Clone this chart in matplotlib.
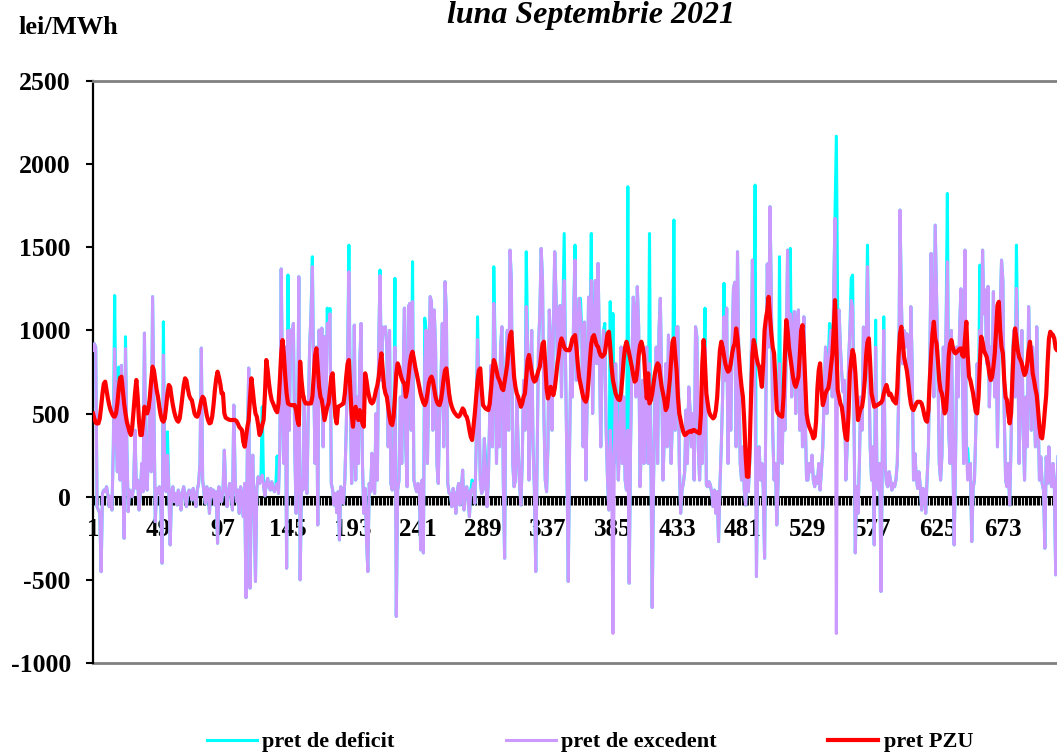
import numpy as np
import matplotlib
matplotlib.use('Agg')
import matplotlib.pyplot as plt
from matplotlib.ticker import MultipleLocator, FixedLocator
from matplotlib.lines import Line2D

# hourly values, September 2021 (30 days x 24 h), one line per day
pret_pzu = [
    501,470,445,440,441,470,540,620,680,692,640,590,550,520,500,485,481,500,560,650,715,722,640,560,
    500,450,420,390,371,420,520,620,702,600,450,371,371,450,541,520,501,530,600,700,782,760,700,641,
    600,540,490,460,451,470,540,620,672,660,600,550,510,480,460,451,470,530,600,670,712,700,650,610,
    590,581,540,500,485,481,500,540,580,601,590,540,490,460,441,445,480,550,640,710,752,720,680,621,
    621,501,475,470,465,462,461,461,462,461,455,440,420,410,401,330,301,360,420,461,600,712,640,560,
    500,481,430,371,390,430,461,620,822,760,680,620,580,561,540,520,508,560,700,860,942,850,720,620,
    561,555,552,550,551,551,520,460,431,812,700,620,580,561,561,560,561,561,600,720,850,892,780,660,
    600,581,520,461,500,540,561,640,720,742,600,480,441,541,545,550,555,561,620,720,800,822,650,500,
    421,520,541,480,461,521,480,440,421,742,700,640,600,570,561,570,600,640,670,720,800,862,760,660,
    620,601,540,480,440,431,480,600,740,802,780,740,710,690,681,601,640,720,800,850,872,830,780,742,
    700,661,620,590,565,551,570,620,680,710,722,700,650,600,570,555,551,580,640,710,760,772,700,620,
    570,541,520,505,495,485,481,490,510,531,520,490,481,450,400,360,341,420,501,600,700,760,772,650,
    551,540,530,525,521,560,650,750,822,800,760,720,702,680,650,641,690,742,800,900,970,992,850,720,
    660,620,601,570,541,560,600,621,720,820,852,800,750,710,692,700,730,760,782,850,920,932,800,650,
    591,620,661,640,611,650,720,800,852,920,952,930,900,885,882,880,882,910,950,962,972,900,800,720,
    680,640,600,580,571,600,700,820,920,960,972,940,910,902,870,850,842,850,862,920,980,992,900,780,
    700,661,620,600,585,581,620,720,830,900,932,900,860,820,780,730,692,700,760,850,910,932,900,842,
    700,591,742,561,580,620,680,740,780,802,790,720,660,621,580,521,540,621,700,820,930,952,850,762,
    600,500,461,420,390,371,375,385,391,395,390,400,401,395,390,385,381,500,800,942,800,621,560,510,
    490,480,471,480,520,600,750,880,932,900,850,800,770,752,760,800,860,900,922,1012,950,850,740,661,
    600,450,250,120,120,300,600,850,942,900,840,800,782,720,661,800,1000,1072,1120,1202,1082,980,900,862,
    700,521,500,490,485,481,600,850,1062,1000,900,842,780,720,680,661,690,722,850,1000,1032,900,700,501,
    450,420,400,380,351,361,450,650,760,802,650,551,580,620,641,650,700,782,850,1000,1182,900,641,600,
    560,541,480,400,350,341,500,742,820,882,850,750,600,461,500,530,541,600,700,850,930,952,800,621,
    580,541,545,550,555,561,565,580,620,650,672,640,611,620,600,580,570,561,650,850,980,1022,930,842,
    800,762,700,620,560,530,521,540,560,571,571,570,560,530,490,460,451,520,702,850,980,1052,950,922,
    820,700,640,621,560,501,520,650,850,920,942,900,870,862,870,880,890,892,850,842,950,1052,850,722,
    700,660,621,560,510,501,600,800,962,930,880,860,842,800,740,702,720,780,862,1000,1150,1172,1000,900,
    862,700,600,581,500,441,500,700,900,1012,950,880,840,822,800,760,732,750,800,880,932,850,742,700,
    650,611,520,420,360,351,420,520,611,800,950,992,980,972,950,892,880,900,920,900,880,900,860,800,
]

pret_excedent = [
    880,920,900,-60,-80,-100,-451,20,40,30,60,10,-60,0,-80,300,890,400,150,700,100,790,200,-250,
    890,300,-90,40,20,0,60,400,50,100,-80,20,200,30,984,100,40,300,600,150,1203,500,-150,50,
    20,60,0,-400,852,100,30,250,50,-290,30,60,-30,20,-50,40,0,-80,30,60,0,-60,20,40,
    30,-20,50,0,-60,40,80,200,894,100,20,-40,60,30,-100,50,0,40,-50,30,-280,60,10,-30,
    40,280,50,-60,20,80,20,-80,551,100,-30,40,-100,60,0,-120,80,-607,300,774,-550,60,250,-80,
    -510,50,120,80,100,130,60,5,80,110,60,40,90,50,30,60,80,20,300,1370,600,200,900,-430,
    1000,400,1002,960,1042,300,-100,200,1323,-500,100,40,600,80,20,500,900,1100,1383,700,200,900,-170,1002,
    600,1014,300,962,500,1042,1000,1100,80,40,-50,20,-96,30,-260,60,20,-40,100,400,800,1353,600,80,
    300,1032,100,600,200,800,1042,200,-100,50,-260,-450,80,30,261,60,20,500,100,900,1330,700,1020,980,
    1022,900,300,1000,80,40,200,900,-720,40,100,600,200,700,1134,300,60,1143,1163,400,1174,100,60,30,
    80,40,-320,100,-338,800,1002,200,700,1203,1173,400,1123,900,200,80,500,700,1042,300,1293,1100,80,20,
    20,-60,50,0,-100,30,80,-50,40,160,-80,20,60,0,-120,40,30,80,-40,300,945,600,100,20,
    40,350,150,-60,100,500,790,300,1163,900,200,700,300,900,1022,100,-370,800,1000,400,1483,1300,200,60,
    100,600,300,80,-50,200,700,400,1143,900,100,600,1000,300,40,-450,200,900,1100,1493,1300,500,100,30,
    300,1123,900,400,1000,1473,1200,800,1100,1150,600,1100,1300,800,200,-510,300,900,600,1100,1423,700,900,1193,
    1100,1000,300,1050,100,600,1200,900,1300,500,1000,1300,800,1403,900,300,800,1000,900,400,100,-80,400,200,
    -822,200,800,400,100,300,900,200,600,100,40,400,-520,300,800,1200,1100,600,1263,1020,60,300,700,200,
    500,900,200,800,300,-666,100,600,900,200,1000,1193,700,100,400,800,300,972,600,200,500,900,400,1020,
    1022,200,-100,40,80,150,521,200,660,520,300,500,100,1022,960,300,100,400,200,600,900,70,60,90,
    70,20,-60,40,-100,30,-270,60,300,600,1082,700,1134,200,800,400,900,1253,1290,300,1473,800,200,100,
    300,40,-50,100,30,200,700,1423,900,600,-480,280,300,100,200,50,-370,600,1400,900,1744,1200,400,100,
    200,-170,100,800,300,200,700,400,900,1483,900,1100,600,1000,1113,500,1060,1123,400,900,300,1082,500,100,
    100,200,150,250,100,60,120,80,200,40,160,300,600,900,500,800,900,1000,600,1200,1674,-822,1083,1123,
    900,740,630,700,100,300,800,1000,1180,1140,500,-338,60,-100,200,600,400,1020,700,900,1383,800,300,100,
    300,-290,900,100,40,200,-570,300,1000,200,80,60,150,100,40,80,60,100,200,600,1724,1200,800,1000,
    900,980,960,600,1143,800,100,260,120,50,150,60,-80,50,40,-100,100,300,800,1463,1000,600,1633,1200,
    800,200,100,250,900,600,1000,1413,400,200,1000,300,-290,200,900,600,1000,1250,900,200,1483,300,100,150,
    200,-270,50,100,400,800,600,1000,900,1483,1100,1243,800,1265,540,900,700,1233,600,1000,300,800,1100,1423,
    1300,500,100,60,200,-50,300,800,1000,600,1253,900,200,700,1000,400,100,600,300,1143,800,400,900,600,
    300,1022,500,100,240,80,40,-310,240,80,300,100,60,200,60,-470,100,300,600,900,400,200,100,50,
]

pret_deficit = [
    880,920,900,-60,-80,-100,-451,20,40,30,60,10,-60,0,-80,300,1210,400,150,780,100,790,200,-250,
    962,300,-90,40,20,0,60,400,50,100,-80,20,200,30,984,100,40,300,600,150,1203,500,-150,50,
    20,60,0,-400,1052,100,30,390,50,-290,30,60,-30,20,-50,40,0,-80,30,60,0,-60,20,40,
    30,-20,50,0,-60,40,80,200,894,100,20,-40,60,30,-100,50,0,40,-50,30,-280,60,10,-30,
    40,280,50,-60,20,80,20,-80,551,100,-30,40,-100,60,0,-120,80,-607,300,774,-550,60,250,-80,
    -510,50,120,80,100,541,60,5,80,110,60,40,90,50,30,60,245,20,300,1370,600,200,900,-430,
    1333,400,1002,960,1042,300,-100,200,1323,-500,100,40,600,80,20,500,900,1100,1443,700,200,900,-170,1002,
    600,1014,300,962,500,1134,1000,1132,80,40,-50,20,-96,30,-260,60,20,-40,100,400,800,1513,600,80,
    300,1032,100,600,200,800,1042,200,-100,50,-260,-450,80,30,261,60,20,500,100,900,1363,700,1020,980,
    1022,900,300,1000,80,40,200,1313,-720,40,100,600,200,700,1134,300,60,1143,1163,400,1413,100,60,30,
    80,40,-320,100,-338,1074,1002,200,700,1203,1173,400,1123,900,200,80,500,700,1042,300,1293,1100,80,20,
    20,-60,50,0,-100,30,80,-50,40,160,-80,20,60,0,-120,40,100,80,-40,300,1082,600,100,20,
    40,350,230,-60,100,500,790,300,1383,900,200,700,300,900,1022,100,-370,800,1000,400,1483,1300,200,60,
    100,600,300,80,-50,200,700,400,1473,900,100,600,1000,300,40,-450,200,900,1100,1493,1300,500,100,30,
    300,1123,900,400,1000,1473,1200,800,1100,1150,600,1100,1583,800,200,-510,300,900,600,1100,1513,700,900,1193,
    1193,1000,300,1050,100,600,1200,900,1583,500,1000,1300,800,1403,900,300,800,1000,1042,400,100,-80,1173,200,
    1102,200,800,400,100,571,900,200,600,100,40,1864,-520,300,800,1200,1100,600,1263,1020,60,300,700,200,
    500,900,200,1583,300,-666,100,600,900,200,1000,1193,700,100,400,800,300,972,600,200,500,1664,400,1020,
    1022,200,-100,40,80,150,521,200,660,520,300,500,100,1022,960,300,100,400,200,600,1134,70,60,90,
    70,20,-60,40,-100,30,-270,60,300,600,1283,700,1134,200,800,400,900,1253,1290,300,1473,800,200,100,
    300,40,-50,100,30,200,700,1423,900,1874,-480,280,300,100,200,50,-370,600,1400,900,1744,1200,400,100,
    200,-170,100,1443,300,200,700,400,900,1483,900,1493,600,1000,1113,500,1060,1123,400,900,300,1082,500,100,
    100,200,150,250,100,60,120,80,200,40,160,300,600,900,500,800,1042,1000,600,1200,1674,2168,1083,1123,
    900,740,630,700,100,300,800,1000,1313,1333,500,-338,60,-100,200,600,400,1020,700,900,1513,800,300,100,
    300,-290,1062,100,40,200,-570,300,1082,200,80,60,150,100,40,80,60,100,200,600,1724,1200,800,1000,
    900,980,960,600,1143,800,100,260,120,50,150,60,-80,50,40,-100,100,300,800,1463,1000,600,1633,1200,
    800,200,100,250,900,600,1000,1824,400,200,1000,300,-290,200,900,600,1000,1250,900,200,1483,300,290,150,
    200,-270,50,100,400,800,600,1393,900,1483,1100,1243,800,1265,540,900,700,1233,600,1000,300,800,1100,1423,
    1300,500,100,60,200,-50,300,800,1000,600,1513,900,200,700,1000,400,100,600,300,1143,800,400,900,600,
    300,1022,500,100,240,80,40,-310,240,80,300,100,60,200,60,-470,100,300,600,900,400,200,100,50,
]

hours = np.arange(1, len(pret_pzu) + 1)
xtick_vals = list(range(1, 721, 48))
ytick_vals = list(range(-1000, 2501, 500))
series_labels = ['pret de deficit', 'pret de excedent', 'pret PZU']
series_colors = ['#00FFFF', '#CC99FF', '#FF0000']

plt.rcParams['font.family'] = ['Liberation Serif', 'DejaVu Serif']
plt.rcParams['font.weight'] = 'bold'
plt.rcParams['axes.unicode_minus'] = False

fig = plt.figure(figsize=(10.57, 7.54), dpi=100)
ax = fig.add_axes([93 / 1057, 91 / 754, 964 / 1057, 582 / 754])

ax.plot(hours, pret_deficit, color=series_colors[0], lw=2.2, zorder=3)
ax.plot(hours, pret_excedent, color=series_colors[1], lw=2.2, zorder=4)
ax.plot(hours, pret_pzu, color=series_colors[2], lw=3.0, zorder=5)

ax.set_xlim(1, 1 + 964 / 1.354)
ax.set_ylim(-1000, 2500)
ax.set_axisbelow(True)

ax.spines['right'].set_visible(False)
ax.spines['top'].set_color('#808080')
ax.spines['top'].set_linewidth(2.0)
ax.spines['left'].set_color('black')
ax.spines['left'].set_linewidth(1.6)
ax.spines['bottom'].set_position(('data', 0))
ax.spines['bottom'].set_color('black')
ax.spines['bottom'].set_linewidth(1.5)
ax.plot([0, 1], [0, 0], transform=ax.transAxes, color='#808080', lw=2.0,
        clip_on=False, zorder=2)

ax.xaxis.set_major_locator(FixedLocator(xtick_vals))
ax.xaxis.set_minor_locator(MultipleLocator(1))
ax.set_xticklabels([str(v) for v in xtick_vals])
ax.tick_params(axis='x', which='both', direction='out', length=6, width=0.8,
               color='black')
ax.tick_params(axis='x', which='major', labelsize=18, pad=9)
ax.set_yticks(ytick_vals)
ax.tick_params(axis='y', direction='out', length=5, width=1.5, color='black',
               labelsize=18.5, pad=11)

fig.text(591 / 1057, 1 - 15 / 754, 'luna Septembrie 2021', ha='center',
         va='center', fontsize=23, style='italic', weight='bold')
fig.text(18 / 1057, 1 - 27 / 754, 'lei/MWh', ha='left', va='center',
         fontsize=19, weight='bold')

handles = [Line2D([0], [0], color=c, lw=w) for c, w in zip(series_colors, [2.2, 2.2, 3.0])]
fig.legend(handles, series_labels, loc='center', bbox_to_anchor=(590 / 1057, 12 / 754),
           ncol=3, frameon=False, fontsize=16, handlelength=2.25,
           handletextpad=0.25, columnspacing=5.0, borderaxespad=0, borderpad=0)

fig.savefig('out.png', dpi=100)
